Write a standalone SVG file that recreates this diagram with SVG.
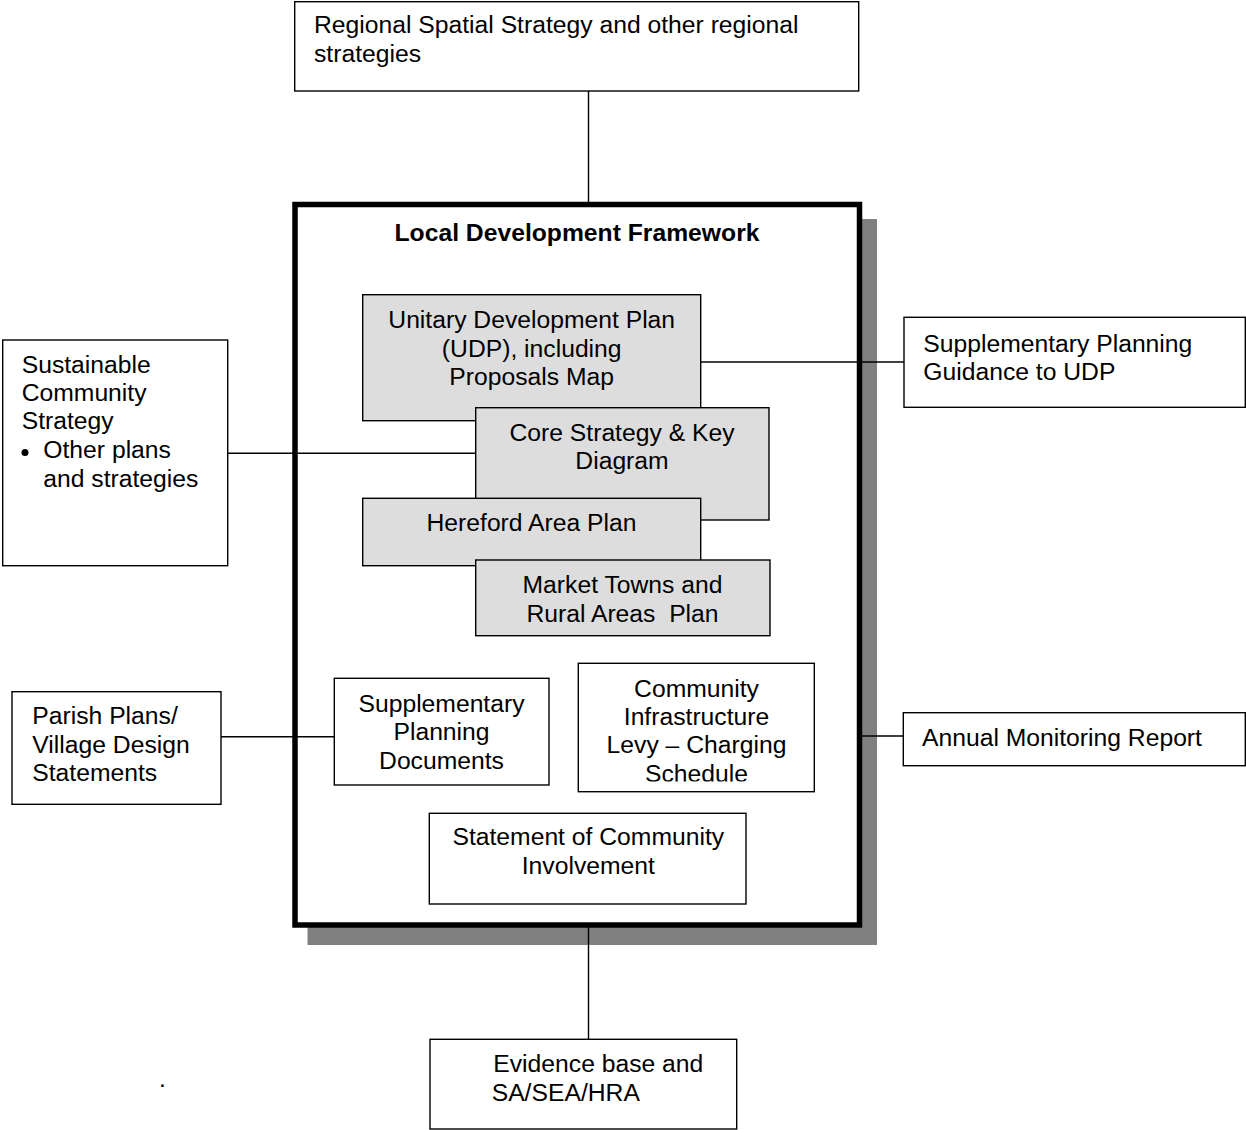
<svg xmlns="http://www.w3.org/2000/svg" width="1246" height="1130" viewBox="0 0 1246 1130">
<style>
.box{fill:#ffffff;stroke:#000000;stroke-width:1.4}
.grey{fill:#dddddd;stroke:#000000;stroke-width:1.4}
.t{font-family:"Liberation Sans",Arial,sans-serif;font-size:24.7px;fill:#000000;white-space:pre}
.c{text-anchor:middle}
.b{font-weight:bold}
.conn{stroke:#000000;stroke-width:1.4;fill:none}
</style>
<defs>
<clipPath id="cilclip"><rect x="578" y="663" width="237" height="118.5"/></clipPath>
</defs>
<rect width="1246" height="1130" fill="#ffffff"/>

<g id="rss">
<rect class="box" x="294.7" y="1.7" width="564" height="89.3"/>
<text class="t" x="314" y="33.3">Regional Spatial Strategy and other regional</text>
<text class="t" x="314" y="61.7">strategies</text>
</g>

<g id="ldf">
<rect x="307.5" y="219" width="569.5" height="726" fill="#808080"/>
<rect x="295" y="204.5" width="564.5" height="720.5" fill="#ffffff" stroke="#000000" stroke-width="5.5"/>
<text class="t b c" x="577" y="240.7">Local Development Framework</text>
</g>

<g id="connectors">
<line class="conn" x1="588.5" y1="91" x2="588.5" y2="203"/>
<line class="conn" x1="588.5" y1="927" x2="588.5" y2="1040"/>
<line class="conn" x1="701" y1="362" x2="904" y2="362"/>
<line class="conn" x1="228" y1="453.3" x2="476" y2="453.3"/>
<line class="conn" x1="221" y1="736.7" x2="338.5" y2="736.7"/>
<line class="conn" x1="860" y1="736" x2="904" y2="736"/>
</g>

<g id="udp">
<rect class="grey" x="362.7" y="294.7" width="338" height="126"/>
<text class="t c" x="531.7" y="328.3">Unitary Development Plan</text>
<text class="t c" x="531.7" y="356.5">(UDP), including</text>
<text class="t c" x="531.7" y="384.5">Proposals Map</text>
</g>

<g id="core">
<rect class="grey" x="475.7" y="407.7" width="293.3" height="112.3"/>
<text class="t c" x="622" y="440.7">Core Strategy &amp; Key</text>
<text class="t c" x="622" y="469">Diagram</text>
</g>

<g id="hereford">
<rect class="grey" x="362.7" y="498.3" width="338" height="67.4"/>
<text class="t c" x="531.5" y="530.7">Hereford Area Plan</text>
</g>

<g id="market">
<rect class="grey" x="475.7" y="560" width="294.3" height="75.7"/>
<text class="t c" x="622.5" y="593">Market Towns and</text>
<text class="t c" x="622.5" y="621.7">Rural Areas  Plan</text>
</g>

<g id="spg">
<rect class="box" x="904" y="317.3" width="341.3" height="90"/>
<text class="t" x="923.3" y="351.5">Supplementary Planning</text>
<text class="t" x="923.3" y="380">Guidance to UDP</text>
</g>

<g id="scs">
<rect class="box" x="2.7" y="340" width="225" height="225.7"/>
<text class="t" x="21.7" y="372.7">Sustainable</text>
<text class="t" x="21.7" y="401">Community</text>
<text class="t" x="21.7" y="429.3">Strategy</text>
<circle cx="25" cy="452.5" r="3.5" fill="#000000"/>
<text class="t" x="43.3" y="458.3">Other plans</text>
<text class="t" x="43.3" y="486.7">and strategies</text>
</g>

<g id="parish">
<rect class="box" x="12" y="691.7" width="209" height="112.6"/>
<text class="t" x="32.3" y="724.3">Parish Plans/</text>
<text class="t" x="32.3" y="752.7">Village Design</text>
<text class="t" x="32.3" y="781">Statements</text>
</g>

<g id="spd">
<rect class="box" x="334.3" y="678.3" width="214.7" height="106.7"/>
<text class="t c" x="441.5" y="711.5">Supplementary</text>
<text class="t c" x="441.5" y="740">Planning</text>
<text class="t c" x="441.5" y="768.5">Documents</text>
</g>

<g id="cil">
<rect class="box" x="578.3" y="663.3" width="236" height="128.4"/>
<g clip-path="url(#cilclip)">
<text class="t c" x="696.5" y="696.7">Community</text>
<text class="t c" x="696.5" y="725">Infrastructure</text>
<text class="t c" x="696.5" y="753">Levy – Charging</text>
<text class="t c" x="696.5" y="781.5">Schedule</text>
</g>
</g>

<g id="amr">
<rect class="box" x="903.3" y="712.7" width="342" height="53"/>
<text class="t" x="922" y="746">Annual Monitoring Report</text>
</g>

<g id="sci">
<rect class="box" x="429.3" y="813.3" width="316.7" height="90.7"/>
<text class="t c" x="588.3" y="845">Statement of Community</text>
<text class="t c" x="588.3" y="874">Involvement</text>
</g>

<g id="evidence">
<rect class="box" x="430" y="1039.3" width="306.7" height="89.7"/>
<text class="t" x="493.3" y="1072.3">Evidence base and</text>
<text class="t" x="491.7" y="1100.7">SA/SEA/HRA</text>
</g>

<text class="t" x="159" y="1087">.</text>
</svg>
